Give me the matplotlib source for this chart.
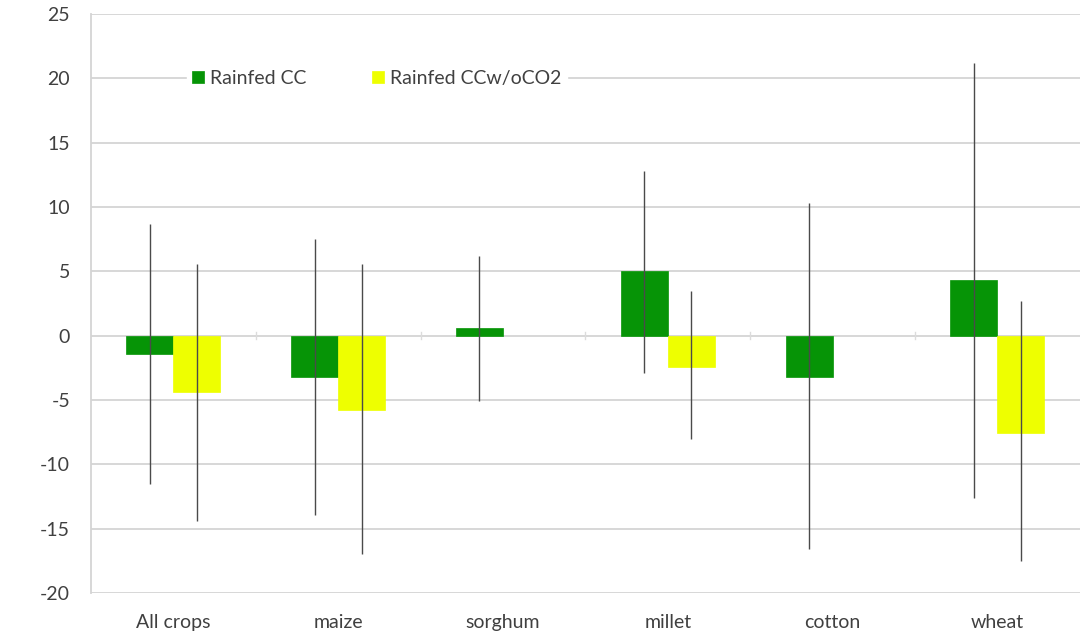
import matplotlib
matplotlib.use("Agg")
import matplotlib.pyplot as plt
import numpy as np

categories = ["All crops", "maize", "sorghum", "millet", "cotton", "wheat"]
series_names = ["Rainfed CC", "Rainfed CCw/oCO2"]
cc_values = [-1.4, -3.2, 0.6, 5.0, -3.2, 4.3]
cc_err_low = [-11.5, -13.9, -5.1, -2.9, -16.6, -12.6]
cc_err_high = [8.7, 7.5, 6.2, 12.8, 10.3, 21.2]
woco2_values = [-4.4, -5.8, np.nan, -2.4, np.nan, -7.6]
woco2_err_low = [-14.4, -17.0, np.nan, -8.0, np.nan, -17.5]
woco2_err_high = [5.6, 5.6, np.nan, 3.5, np.nan, 2.7]
yticks = [-20, -15, -10, -5, 0, 5, 10, 15, 20, 25]

green = "#069406"
yellow = "#eeff00"
errc = "#4a4a4a"
textc = "#404040"
font = "Lato"
fs = 14

fig = plt.figure(figsize=(10.82, 6.36), dpi=100)
ax = fig.add_axes([0.084, 0.0676, 0.914, 0.9104])

x = np.arange(len(categories))
w = 0.285

cv = np.array(cc_values, dtype=float)
ax.bar(x - w / 2, cv, width=w, color=green, edgecolor=green, linewidth=0.5,
       label=series_names[0], zorder=3)
ax.vlines(x - w / 2, cc_err_low, cc_err_high, color=errc, linewidth=1.0, zorder=4)

wv = np.array(woco2_values, dtype=float)
m = ~np.isnan(wv)
ax.bar((x + w / 2)[m], wv[m], width=w, color=yellow, edgecolor=yellow,
       linewidth=0.5, label=series_names[1], zorder=3)
ax.vlines((x + w / 2)[m], np.array(woco2_err_low)[m], np.array(woco2_err_high)[m],
          color=errc, linewidth=1.0, zorder=4)

ax.set_xlim(-0.5, len(categories) - 0.5)
ax.set_ylim(-20, 25)
ax.set_yticks(yticks)
ax.set_yticklabels([str(t) for t in yticks], fontsize=fs, color=textc, family=font)
ax.set_xticks(x)
ax.set_xticklabels(categories, fontsize=fs, color=textc, family=font)
ax.tick_params(axis="y", length=0, pad=15)
ax.tick_params(axis="x", length=0, pad=15)

ax.yaxis.grid(True, color="#d4d4d4", linewidth=1.3, zorder=0)
ax.set_axisbelow(True)
for s in ["top", "right", "bottom"]:
    ax.spines[s].set_visible(False)
ax.spines["left"].set_color("#d4d4d4")
ax.spines["left"].set_linewidth(1.3)

# small category boundary ticks on zero line
for b in np.arange(0.5, len(categories) - 0.5, 1.0):
    ax.plot([b, b], [-0.25, 0.25], color="#dcdcdc", linewidth=1, zorder=1)

leg = ax.legend(loc="center left", bbox_to_anchor=(0.087, 0.889), ncol=2,
                frameon=True, framealpha=1, edgecolor="white", facecolor="white",
                handlelength=0.6, handleheight=0.6, handletextpad=0.3,
                columnspacing=3.4, borderpad=0.3,
                prop={"family": font, "size": fs})
for t in leg.get_texts():
    t.set_color(textc)

fig.savefig("out.png", dpi=100)
